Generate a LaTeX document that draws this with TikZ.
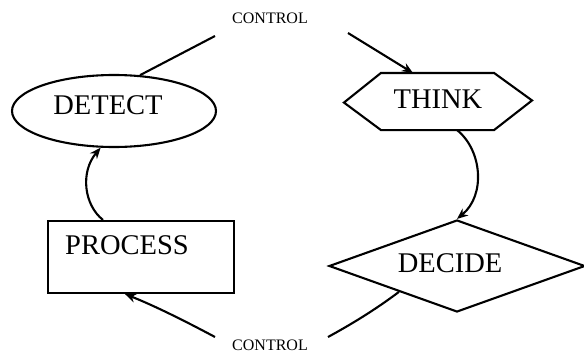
\documentclass[tikz,border=0pt]{standalone}
\usepackage{fontspec}
\setmainfont{Liberation Serif}
\usetikzlibrary{arrows.meta,shapes.geometric,calc}
\begin{document}
\begin{tikzpicture}[x=1pt,y=-1pt,
  line width=2.1pt,
  big/.style={font=\fontsize{28.5}{30}\selectfont, inner sep=0pt},
  ctl/.style={font=\fontsize{16}{17}\selectfont, inner sep=0pt},
  arr/.style={-{Stealth[length=11pt,width=9pt]}},
]
\useasboundingbox (0,0) rectangle (584,356);
\node[draw, ellipse, minimum width=204pt, minimum height=72pt, inner sep=0pt] (detect) at (114,111) {};
\node[big] (detectlbl) at (108,105) {DETECT};
\node[draw, minimum width=186pt, minimum height=72pt, inner sep=0pt] (process) at (141,257) {};
\node[big] (processlbl) at (127,245) {PROCESS};
\node[minimum width=111pt, minimum height=55pt, inner sep=0pt] (think) at (437.5,101.5) {};
\node[big] (thinklbl) at (438,99) {THINK};
\draw (think.north west) -- (think.north east) -- ++(38,27.5) -- (think.south east) -- (think.south west) -- ++(-37,-27.5) -- cycle;
\node[draw, diamond, shape aspect=2.8, minimum width=256pt, minimum height=92pt, inner sep=0pt] (decide) at (457,266) {};
\node[big] (decidelbl) at (450,263) {DECIDE};
\node[ctl] (ctltop) at (270,18.5) {CONTROL};
\node[ctl] (ctlbot) at (270,345) {CONTROL};
\coordinate (a1) at (215,36);
\coordinate (a2) at (348,33);
\coordinate (b1) at (328,337);
\coordinate (b2) at (215,337);
\draw (detect.54) -- (a1);
\draw[arr] (a2) -- ([xshift=32pt]think.north west);
\draw[arr] ([xshift=19.5pt]think.south) .. controls (482,150) and (486,195) .. (decide.north);
\draw ($(decide.west)!0.55!(decide.south)$) .. controls (375,310) and (350,325) .. (b1);
\draw[arr] (b2) .. controls (185,321) and (155,306) .. ([xshift=-16pt]process.south);
\draw[arr] ([xshift=-38pt]process.north) .. controls (84,205) and (80,172) .. (detect.-110);
\end{tikzpicture}
\end{document}
